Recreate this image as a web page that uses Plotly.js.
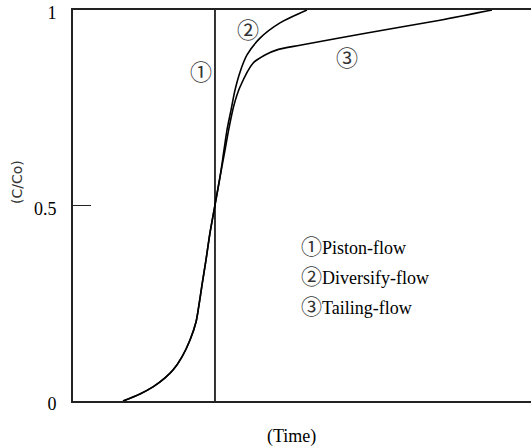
<!DOCTYPE html>
<html>
<head>
<meta charset="utf-8">
<script src="https://cdn.plot.ly/plotly-3.0.1.min.js"></script>
<style>html,body{margin:0;padding:0;background:#fff;}#chart{width:531px;height:448px;}</style>
</head>
<body>
<div id="chart"></div>
<script>
// Piston flow (vertical step)
const pistonX = [31.0, 31.0];
const pistonY = [0, 1];
// Diversify flow
const diversifyX = [10.92, 14.63, 17.47, 20.09, 21.83, 23.80, 25.55, 26.86, 27.51, 28.17, 29.04, 29.91, 31.0, 32.10, 32.97, 33.62, 34.50, 35.37, 36.46, 37.99, 40.83, 45.20, 51.09];
const diversifyY = [0, 0.018, 0.036, 0.059, 0.079, 0.113, 0.156, 0.202, 0.246, 0.297, 0.361, 0.430, 0.501, 0.573, 0.642, 0.693, 0.744, 0.795, 0.841, 0.885, 0.928, 0.967, 1.0];
// Tailing flow
const tailingX = [10.92, 14.63, 17.47, 20.09, 21.83, 23.80, 25.55, 26.86, 27.51, 28.17, 29.04, 29.91, 31.0, 32.10, 33.19, 34.06, 35.15, 36.46, 39.30, 41.92, 44.54, 49.56, 64.19, 80.13, 91.48];
const tailingY = [0, 0.018, 0.036, 0.059, 0.079, 0.113, 0.156, 0.202, 0.246, 0.297, 0.361, 0.430, 0.501, 0.573, 0.642, 0.698, 0.757, 0.803, 0.864, 0.885, 0.898, 0.910, 0.941, 0.974, 1.0];

const yTickVals = [0, 0.5, 1];
const yTickText = ['0', '0.5', '1'];
const curveMarks = ['①', '②', '③'];
const legendNames = ['Piston-flow', 'Diversify-flow', 'Tailing-flow'];
const xTitle = '(Time)';
const yTitle = '(C/Co)';

const serif = 'Liberation Serif, serif';
const cjk = 'Noto Sans CJK JP';
const lineStyle = {color: '#000', width: 1.6};

const traces = [
  {x: pistonX, y: pistonY, mode: 'lines', line: lineStyle, hoverinfo: 'skip'},
  {x: diversifyX, y: diversifyY, mode: 'lines', line: Object.assign({shape: 'spline', smoothing: 0.8}, lineStyle), hoverinfo: 'skip'},
  {x: tailingX, y: tailingY, mode: 'lines', line: Object.assign({shape: 'spline', smoothing: 0.8}, lineStyle), hoverinfo: 'skip'}
];

const markPos = [[27.95, 0.847], [38.2, 0.954], [59.8, 0.882]];
const annotations = [];
curveMarks.forEach((m, i) => annotations.push({
  x: markPos[i][0], y: markPos[i][1], xref: 'x', yref: 'y', text: m, showarrow: false,
  font: {family: cjk, size: 22, color: '#333'}
}));
const legendYs = [0.399, 0.322, 0.246];
legendNames.forEach((t, i) => annotations.push({
  x: 0.494, y: legendYs[i], xref: 'paper', yref: 'y', xanchor: 'left', yanchor: 'middle',
  text: '<span style="font-family:\'' + cjk + '\';font-size:21px;color:#333">' + curveMarks[i] + '</span>' + t,
  showarrow: false, font: {family: serif, size: 18, color: '#000'}
}));
annotations.push({x: (291 - 73) / 458, y: -0.123, xref: 'paper', yref: 'paper', text: xTitle,
  showarrow: false, font: {family: serif, size: 18, color: '#000'}});
annotations.push({x: -0.144, y: (401 - 182) / 391, xref: 'paper', yref: 'paper', text: yTitle, textangle: -90,
  showarrow: false, font: {family: 'DejaVu Sans, sans-serif', size: 14, color: '#333'}});

const layout = {
  width: 531, height: 448,
  margin: {l: 73, r: 0, t: 10, b: 47},
  paper_bgcolor: '#fff', plot_bgcolor: '#fff',
  showlegend: false,
  xaxis: {range: [0, 100], showgrid: false, zeroline: false, showticklabels: false, ticks: '',
    showline: true, linecolor: '#222', linewidth: 2, mirror: true},
  yaxis: {range: [0, 1], showgrid: false, zeroline: false, showline: true, linecolor: '#222', linewidth: 2,
    tickvals: yTickVals, ticktext: yTickText, ticks: 'inside', ticklen: 18, tickwidth: 1.6, tickcolor: '#222',
    tickfont: {family: serif, size: 18, color: '#000'}, ticklabelstandoff: 11, ticklabelshift: 3,
    title: {text: ''}},
  annotations: annotations
};

Plotly.newPlot('chart', traces, layout, {staticPlot: true, displayModeBar: false});
</script>
</body>
</html>
